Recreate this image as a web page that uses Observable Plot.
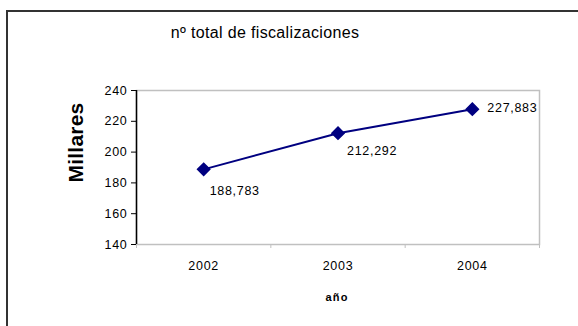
<!DOCTYPE html>
<html>
<head>
<meta charset="utf-8">
<script src="https://cdn.jsdelivr.net/npm/d3@7"></script>
<script src="https://cdn.jsdelivr.net/npm/@observablehq/plot@0.6"></script>
<style>
  html, body { margin: 0; padding: 0; background: #fff; overflow: hidden; }
  #wrap { position: relative; width: 578px; height: 326px; }
  #frame { position: absolute; left: 6px; top: 10px; width: 700px; height: 500px;
           border-left: 2px solid #333; border-top: 2px solid #333; pointer-events: none; }
  svg text { letter-spacing: 0.7px; }
  .ttl text { letter-spacing: 0.35px; }
  .ylab text { letter-spacing: 0.2px; }
  .xlab text { letter-spacing: 1.2px; }
</style>
</head>
<body>
<div id="wrap"><div id="frame"></div></div>
<script>
const years = [2002, 2003, 2004];
const values = [188.783, 212.292, 227.883];
const yTicks = [140, 160, 180, 200, 220, 240];
const title = "nº total de fiscalizaciones";
const xLabel = "año";
const yLabel = "Millares";

const data = years.map((y, i) => ({year: y, value: values[i]}));
const fmt = v => v.toFixed(3).replace(".", ",");
const labelDx = [6, 9, 15];
const labelDy = [22, 18, -1];
const font = "Liberation Sans, Arial, sans-serif";
const navy = "#000080";

const chart = Plot.plot({
  width: 578,
  height: 326,
  marginLeft: 136,
  marginRight: 39,
  marginTop: 90,
  marginBottom: 82,
  style: {fontFamily: font, fontSize: "12.5px", color: "#000", background: "transparent"},
  x: {domain: [2001.5, 2004.5]},
  y: {domain: [140, 240]},
  marks: [
    Plot.frame({stroke: "#c0c0c0", strokeWidth: 1.5}),
    Plot.axisX([2001.5, 2002.5, 2003.5, 2004.5], {tickSize: 4, tickFormat: () => "", stroke: "#c0c0c0", label: null}),
    Plot.axisX(years, {tickSize: 0, tickPadding: 17, tickFormat: d => String(d), label: null, fontSize: 12.5}),
    Plot.axisY(yTicks, {tickSize: 5, tickPadding: 4, label: null, fontSize: 12.5, stroke: "#000"}),
    Plot.ruleX([2001.5], {stroke: "#000", strokeWidth: 1.5}),
    Plot.line(data, {x: "year", y: "value", stroke: navy, strokeWidth: 2}),
    Plot.dot(data, {x: "year", y: "value", symbol: "diamond2", fill: navy, stroke: navy, r: 5.5}),
    ...data.map((d, i) => Plot.text([d], {x: "year", y: "value", text: dd => fmt(dd.value),
      textAnchor: "start", lineAnchor: "middle", dx: labelDx[i], dy: labelDy[i], fontSize: 12.5, fill: "#000"})),
    Plot.text([title], {frameAnchor: "top", textAnchor: "middle", dx: -73, dy: -58, lineAnchor: "middle", fontSize: 16, fill: "#000", className: "ttl"}),
    Plot.text([xLabel], {frameAnchor: "bottom", textAnchor: "middle", dx: -1, dy: 53, lineAnchor: "middle", fontSize: 11, fontWeight: "bold", fill: "#000", className: "xlab"}),
    Plot.text([yLabel], {frameAnchor: "left", textAnchor: "middle", dx: -60, dy: -25, rotate: -90, lineAnchor: "middle", fontSize: 21, fontWeight: "bold", fill: "#000", className: "ylab"})
  ]
});
document.getElementById("wrap").prepend(chart);
</script>
</body>
</html>
